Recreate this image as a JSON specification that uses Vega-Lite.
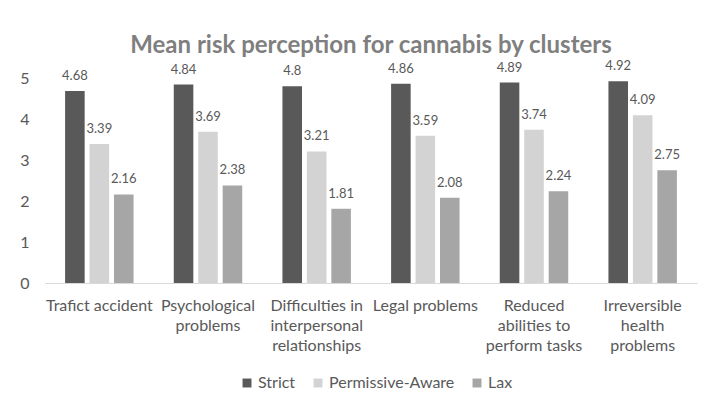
{
  "$schema": "https://vega.github.io/schema/vega-lite/v6.json",
  "width": 652,
  "height": 205,
  "autosize": {"type": "none"},
  "padding": {"left": 45, "top": 78, "right": 26, "bottom": 137},
  "background": "white",
  "title": {
    "text": "Mean risk perception for cannabis by clusters",
    "font": "Lato",
    "fontSize": 24,
    "fontWeight": "bold",
    "color": "#7f7f7f",
    "anchor": "middle",
    "offset": 2
  },
  "config": {
    "font": "Lato",
    "view": {"stroke": null},
    "axis": {"labelFont": "Lato", "labelColor": "#595959", "grid": false, "ticks": false}
  },
  "data": {
    "values": [
      {"risk": "Trafict accident", "cluster": "Strict", "mean": 4.68},
      {"risk": "Trafict accident", "cluster": "Permissive-Aware", "mean": 3.39},
      {"risk": "Trafict accident", "cluster": "Lax", "mean": 2.16},
      {"risk": "Psychological problems", "cluster": "Strict", "mean": 4.84},
      {"risk": "Psychological problems", "cluster": "Permissive-Aware", "mean": 3.69},
      {"risk": "Psychological problems", "cluster": "Lax", "mean": 2.38},
      {"risk": "Difficulties in interpersonal relationships", "cluster": "Strict", "mean": 4.8},
      {"risk": "Difficulties in interpersonal relationships", "cluster": "Permissive-Aware", "mean": 3.21},
      {"risk": "Difficulties in interpersonal relationships", "cluster": "Lax", "mean": 1.81},
      {"risk": "Legal problems", "cluster": "Strict", "mean": 4.86},
      {"risk": "Legal problems", "cluster": "Permissive-Aware", "mean": 3.59},
      {"risk": "Legal problems", "cluster": "Lax", "mean": 2.08},
      {"risk": "Reduced abilities to perform tasks", "cluster": "Strict", "mean": 4.89},
      {"risk": "Reduced abilities to perform tasks", "cluster": "Permissive-Aware", "mean": 3.74},
      {"risk": "Reduced abilities to perform tasks", "cluster": "Lax", "mean": 2.24},
      {"risk": "Irreversible health problems", "cluster": "Strict", "mean": 4.92},
      {"risk": "Irreversible health problems", "cluster": "Permissive-Aware", "mean": 4.09},
      {"risk": "Irreversible health problems", "cluster": "Lax", "mean": 2.75}
    ]
  },
  "encoding": {
    "x": {
      "field": "risk",
      "type": "nominal",
      "sort": null,
      "scale": {"paddingInner": 0.37, "paddingOuter": 0.185},
      "axis": {
        "title": null,
        "labelAngle": 0,
        "labelFontSize": 16,
        "labelPadding": 14,
        "labelLineHeight": 20,
        "labelBaseline": "top",
        "labelLimit": 200,
        "domainColor": "#d9d9d9",
        "labelExpr": "{'Trafict accident': ['Trafict accident'], 'Psychological problems': ['Psychological', 'problems'], 'Difficulties in interpersonal relationships': ['Difficulties in', 'interpersonal', 'relationships'], 'Legal problems': ['Legal problems'], 'Reduced abilities to perform tasks': ['Reduced', 'abilities to', 'perform tasks'], 'Irreversible health problems': ['Irreversible', 'health', 'problems']}[datum.value]"
      }
    },
    "xOffset": {
      "field": "cluster",
      "type": "nominal",
      "sort": ["Strict", "Permissive-Aware", "Lax"],
      "scale": {"paddingInner": 0.2}
    },
    "y": {
      "field": "mean",
      "type": "quantitative",
      "scale": {"domain": [0, 5]},
      "axis": {
        "title": null,
        "domain": false,
        "values": [0, 1, 2, 3, 4, 5],
        "labelFontSize": 16,
        "labelPadding": 16,
        "labelAlign": "right"
      }
    }
  },
  "layer": [
    {
      "mark": {"type": "bar"},
      "encoding": {
        "color": {
          "field": "cluster",
          "type": "nominal",
          "sort": ["Strict", "Permissive-Aware", "Lax"],
          "scale": {
            "domain": ["Strict", "Permissive-Aware", "Lax"],
            "range": ["#595959", "#d3d3d3", "#a6a6a6"]
          },
          "legend": {
            "title": null,
            "orient": "none",
            "direction": "horizontal",
            "legendX": 194,
            "legendY": 297,
            "symbolType": "square",
            "symbolSize": 80,
            "symbolStrokeWidth": 0,
            "labelFontSize": 16,
            "labelColor": "#595959",
            "labelFont": "Lato",
            "columnPadding": 14,
            "labelOffset": 3
          }
        }
      }
    },
    {
      "mark": {"type": "text", "baseline": "bottom", "dy": -8, "fontSize": 13, "color": "#595959"},
      "encoding": {
        "text": {"field": "mean", "type": "quantitative"}
      }
    }
  ]
}
